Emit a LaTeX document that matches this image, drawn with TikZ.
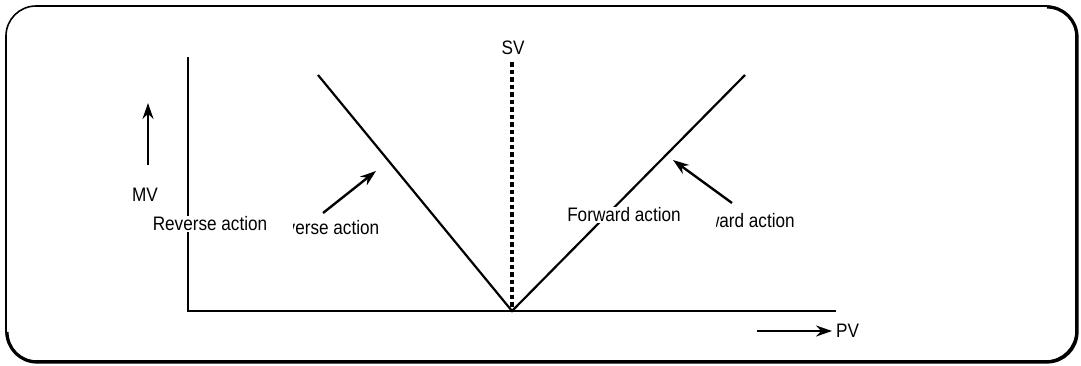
\documentclass[tikz,border=0pt]{standalone}
\usepackage{fontspec}
\setmainfont{Liberation Sans}
\usetikzlibrary{arrows.meta}

\begin{document}
\begin{tikzpicture}[
    x=1pt, y=1pt, >={Stealth[length=16pt,width=11pt]},
    axis/.style={line width=2.4pt},
    act/.style={line width=2.2pt},
    hint/.style={line width=2.4pt, ->},
    lbl/.style={font=\fontsize{19.5}{20}\selectfont, inner sep=1pt,
                xscale=.88, transform shape},
    cover/.style={lbl, fill=white}
  ]
  \useasboundingbox (0,0) rectangle (1081,-365);

  % frame with shadow on right and bottom
  \draw[line width=1.6pt, rounded corners=30pt] (6,-6) rectangle (1076,-361);
  \draw[line width=3.2pt]
    (1047,-7) arc[start angle=90, end angle=0, radius=30]
    -- (1077,-332) arc[start angle=0, end angle=-90, radius=30]
    -- (37,-362) arc[start angle=-90, end angle=-180, radius=30];

  % axes
  \coordinate (top) at (188,-57);
  \coordinate (orig) at (188,-311);
  \coordinate (xend) at (836,-311);
  \coordinate (vtx) at (512,-311);
  \draw[axis] (top) -- (orig) -- (xend);

  % set value
  \coordinate (svtop) at (512,-62);
  \draw[line width=3.2pt, dash pattern=on 4.5pt off 3pt] (svtop) -- (vtx);
  \node[lbl] (sv) at (513,-48) {SV};

  % reverse and forward action lines
  \coordinate (rtop) at (318,-75);
  \coordinate (ftop) at (745,-75);
  \draw[act] (rtop) -- (vtx) -- (ftop);

  % MV and PV arrows
  \coordinate (mvtail) at (148,-165);
  \coordinate (mvhead) at (148,-103);
  \draw[hint] (mvtail) -- (mvhead);
  \node[lbl] (mv) at (145,-195) {MV};
  \coordinate (pvtail) at (757,-331);
  \coordinate (pvhead) at (832,-331);
  \draw[hint] (pvtail) -- (pvhead);
  \node[lbl, anchor=west] (pv) at (835,-331) {PV};

  % labels
  \node[cover] (rev) at (210,-224) {Reverse action};
  \node[cover] (fwd) at (624,-215) {Forward action};
  \begin{scope}
    \clip (293,-200) rectangle (400,-250);
    \node[lbl] (rev2) at (322,-228) {Reverse action};
  \end{scope}
  \begin{scope}
    \clip (716,-195) rectangle (820,-245);
    \node[lbl] (fwd2) at (738,-221) {Forward action};
  \end{scope}

  % pointers to the lines
  \coordinate (rtail) at (323,-213);
  \coordinate (rhead) at (376,-171);
  \draw[hint] (rtail) -- (rhead);
  \coordinate (ftail) at (732,-203);
  \coordinate (fhead) at (673,-160);
  \draw[hint] (ftail) -- (fhead);
\end{tikzpicture}
\end{document}
